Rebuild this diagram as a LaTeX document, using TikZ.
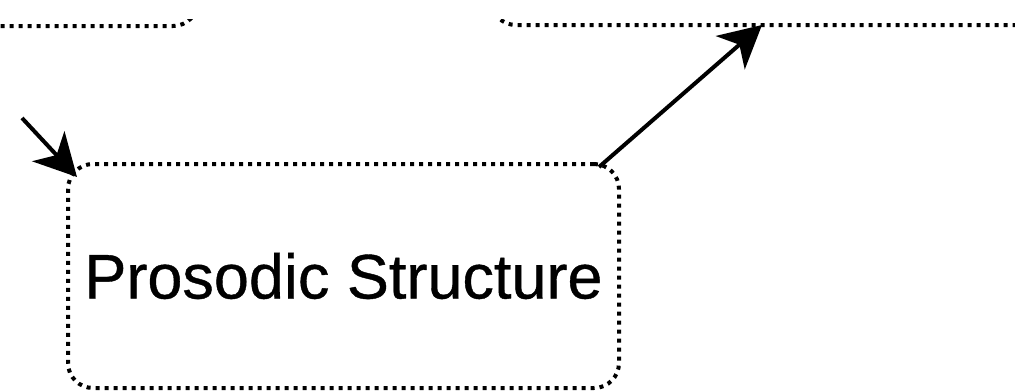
\documentclass[tikz,border=0pt]{standalone}
\usepackage{fontspec}
\setmainfont{Liberation Sans}
\usetikzlibrary{arrows.meta}
\begin{document}
\begin{tikzpicture}[x=1pt,y=-1pt,
  dotbox/.style={draw, line width=4pt, dash pattern=on 4pt off 5pt,
    rounded corners=25pt, inner sep=0pt, outer sep=0pt},
  link/.style={draw, line width=4pt,
    -{Stealth[length=42pt,width=44pt,inset=12pt]}},
  label/.style={font=\fontsize{63pt}{70pt}\selectfont},
]
\useasboundingbox (0,0) rectangle (1015,391);
\clip (0,19) rectangle (1015,391);

% neighbouring boxes, only their lower edges in view
\node[dotbox, minimum width=288pt, minimum height=226pt] (prev) at (54,-87) {};
\node[dotbox, minimum width=812pt, minimum height=225pt] (next) at (897,-87.5) {};

% central box
\node[dotbox, label, minimum width=551pt, minimum height=224pt] (prosody)
  at (343.5,276) {\addfontfeature{FakeBold=0.6}Prosodic Structure};

% connectors
\coordinate (src) at (22,118);
\draw[link] (src) -- ([shift={(9,13)}]prosody.north west);
\draw[link] ([shift={(-20,3)}]prosody.north east) -- ([xshift=271pt]next.south west);
\end{tikzpicture}
\end{document}
